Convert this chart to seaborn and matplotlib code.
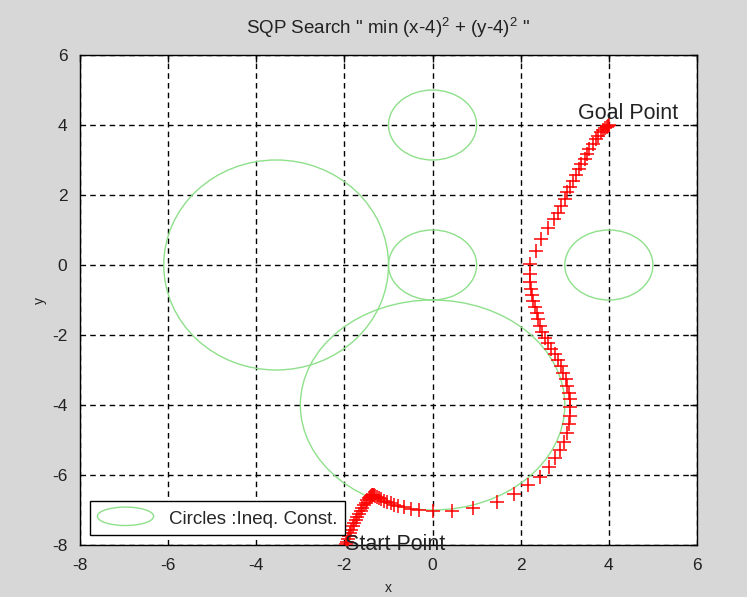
import matplotlib
matplotlib.use("Agg")
import matplotlib.pyplot as plt
import seaborn as sns
import pandas as pd
from matplotlib.patches import Ellipse
from matplotlib.legend_handler import HandlerPatch

# ---- data ----
path_x = [-1.96, -1.94, -1.92, -1.90, -1.87, -1.84, -1.81, -1.78, -1.74, -1.71,
          -1.67, -1.63, -1.60, -1.56, -1.52, -1.48, -1.45, -1.42, -1.39, -1.37,
          -1.35, -1.33, -1.30, -1.26, -1.22, -1.17, -1.10, -1.03, -0.95, -0.87,
          -0.78, -0.65, -0.50, -0.31, 0.00, 0.44, 0.92, 1.46, 1.84, 2.17,
          2.43, 2.64, 2.77, 2.89, 2.98, 3.05, 3.09, 3.11, 3.12, 3.12,
          3.10, 3.06, 3.02, 2.96, 2.91, 2.85, 2.77, 2.68, 2.61, 2.55,
          2.49, 2.43, 2.39, 2.36, 2.32, 2.28, 2.25, 2.23, 2.21, 2.21,
          2.22, 2.34, 2.45, 2.62, 2.75, 2.85, 2.92, 3.00, 3.05, 3.11,
          3.19, 3.26, 3.32, 3.37, 3.45, 3.50, 3.56, 3.63, 3.70, 3.76,
          3.82, 3.87, 3.91, 3.95, 3.98, 4.00]
path_y = [-7.98, -7.90, -7.82, -7.74, -7.65, -7.56, -7.47, -7.38, -7.29, -7.20,
          -7.11, -7.02, -6.94, -6.86, -6.79, -6.72, -6.67, -6.63, -6.60, -6.58,
          -6.57, -6.58, -6.60, -6.63, -6.66, -6.69, -6.73, -6.77, -6.81, -6.85,
          -6.88, -6.92, -6.97, -7.00, -7.04, -7.04, -6.95, -6.78, -6.55, -6.28,
          -6.05, -5.77, -5.52, -5.29, -5.05, -4.81, -4.55, -4.30, -4.05, -3.84,
          -3.65, -3.46, -3.27, -3.08, -2.89, -2.72, -2.55, -2.39, -2.23, -2.08,
          -1.92, -1.73, -1.54, -1.38, -1.21, -1.04, -0.87, -0.68, -0.49, -0.26,
          0.03, 0.41, 0.74, 1.07, 1.31, 1.50, 1.69, 1.89, 2.08, 2.24,
          2.41, 2.58, 2.74, 2.88, 3.02, 3.16, 3.31, 3.45, 3.60, 3.70,
          3.79, 3.86, 3.91, 3.95, 3.98, 4.00]

circle_cx = [0.0, -3.55, 0.0, 0.0, 4.0]
circle_cy = [4.0, 0.0, 0.0, -4.0, 0.0]
circle_rx = [1.0, 2.55, 1.0, 3.0, 1.0]
circle_ry = [1.0, 3.0, 1.0, 3.0, 1.0]

xticks = [-8, -6, -4, -2, 0, 2, 4, 6]
yticks = [-8, -6, -4, -2, 0, 2, 4, 6]

title = 'SQP Search " min (x-4)$^2$ + (y-4)$^2$ "'
legend_label = "Circles :Ineq. Const."

# ---- style ----
sns.set_style("white")
plt.rcParams['font.family'] = ['Liberation Sans', 'DejaVu Sans']
plt.rcParams['mathtext.fontset'] = 'custom'
plt.rcParams['mathtext.rm'] = 'Liberation Sans'

W, H = 747, 597
fig = plt.figure(figsize=(W / 100, H / 100), dpi=100, facecolor='#d7d7d7')
ax = fig.add_axes([80 / W, 52 / H, 617 / W, 490 / H])
ax.set_facecolor('white')

green = '#8ee08a'
ells = []
for cx, cy, rx, ry in zip(circle_cx, circle_cy, circle_rx, circle_ry):
    e = Ellipse((cx, cy), 2 * rx, 2 * ry, fill=False, edgecolor=green, lw=1.0, zorder=2)
    ax.add_patch(e)
    ells.append(e)

df = pd.DataFrame({'x': path_x, 'y': path_y})
sns.scatterplot(data=df, x='x', y='y', marker='+', color='red', s=100,
                linewidth=1.1, ax=ax, zorder=3, legend=False)

ax.set_xlim(-8, 6)
ax.set_ylim(-8, 6)
ax.set_xticks(xticks)
ax.set_yticks(yticks)
ax.set_xticklabels([str(t) for t in xticks])
ax.set_yticklabels([str(t) for t in yticks])
ax.tick_params(direction='in', length=5, width=1, colors='black',
               labelcolor='#222222', labelsize=12.5, pad=9, top=True, right=True)
ax.grid(True, color='black', linestyle=(0, (4, 3)), linewidth=1.0, zorder=1)
ax.set_axisbelow(True)
for s in ax.spines.values():
    s.set_visible(True)
    s.set_color('black')
    s.set_linewidth(1.0)

ax.set_title(title, fontsize=13.5, pad=15, color='#222222')
ax.set_xlabel('x', fontsize=10, labelpad=6, color='#222222')
ax.set_ylabel('y', fontsize=10, labelpad=4, color='#222222')

ax.text(3.3, 4.02, 'Goal Point', fontsize=15.5, ha='left', va='bottom',
        color='#222222', zorder=5)
ax.text(-1.98, -8.0, 'Start Point', fontsize=15.5, ha='left', va='center',
        color='#222222', zorder=5, clip_on=False)


class HandlerEllipse(HandlerPatch):
    def create_artists(self, legend, orig_handle, xdescent, ydescent,
                       width, height, fontsize, trans):
        center = 0.5 * width - 0.5 * xdescent, 0.5 * height - 0.5 * ydescent
        p = Ellipse(xy=center, width=width, height=height * 1.1,
                    fill=False, edgecolor=green, lw=1.0)
        p.set_transform(trans)
        return [p]


leg = ax.legend([ells[0]], [legend_label], handler_map={Ellipse: HandlerEllipse()},
                loc='lower left', bbox_to_anchor=(0.016, 0.02), fontsize=13.5,
                frameon=True, fancybox=False, edgecolor='black', framealpha=1,
                handlelength=3.0, handleheight=1.0, borderpad=0.4, handletextpad=0.8,
                borderaxespad=0)
leg.get_frame().set_linewidth(1.0)
leg.set_zorder(4)

fig.savefig('out.png', dpi=100, facecolor=fig.get_facecolor())
